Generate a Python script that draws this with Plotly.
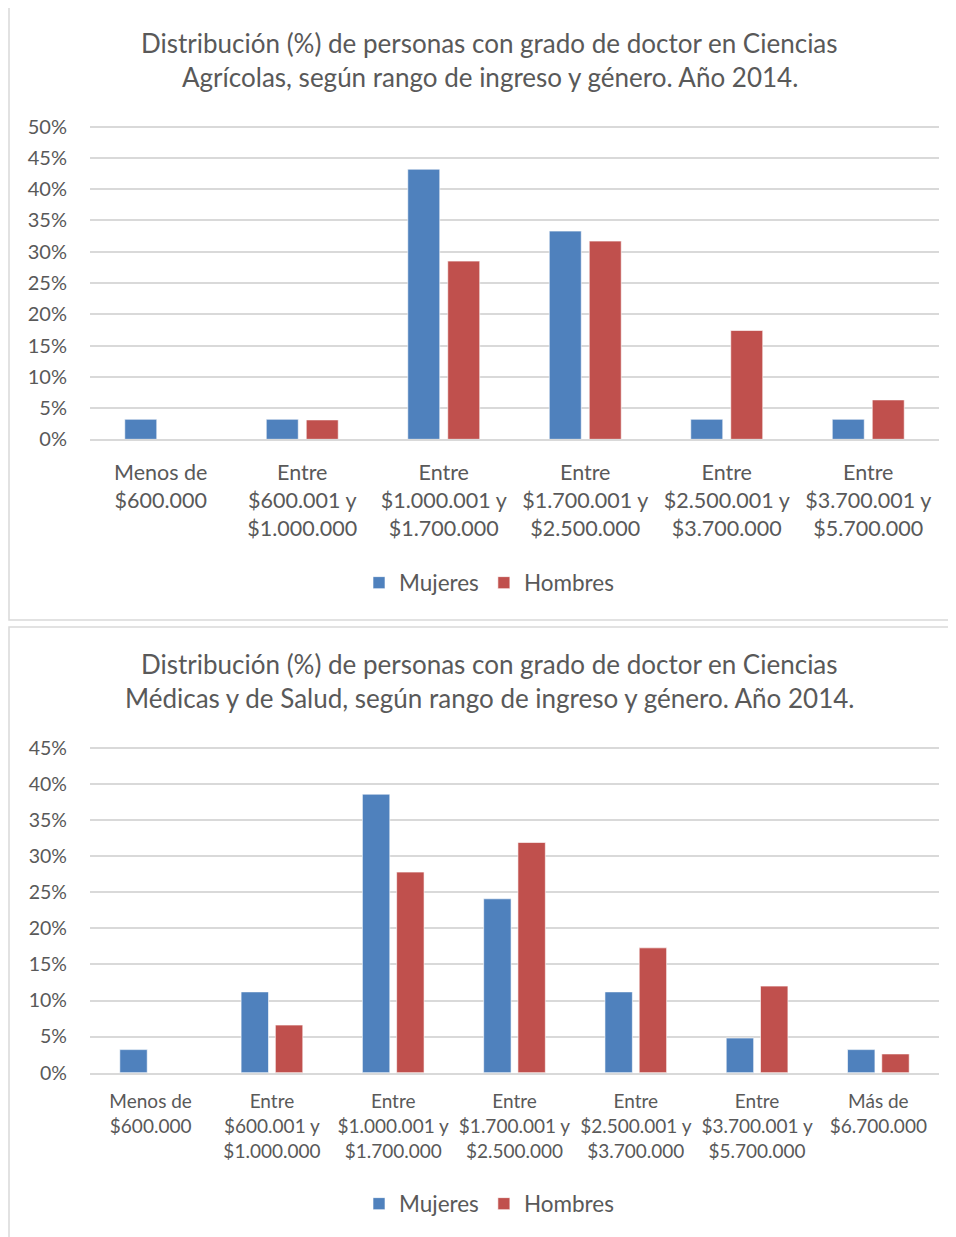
import plotly.graph_objects as go

W, H = 956, 1237
OFF = 8  # browser body margin

# ---- data ----
cats_agri = ["Menos de<br>$600.000", "Entre<br>$600.001 y<br>$1.000.000", "Entre<br>$1.000.001 y<br>$1.700.000",
             "Entre<br>$1.700.001 y<br>$2.500.000", "Entre<br>$2.500.001 y<br>$3.700.000", "Entre<br>$3.700.001 y<br>$5.700.000"]
mujeres_agri = [3.2, 3.2, 43.2, 33.3, 3.2, 3.2]
hombres_agri = [0.0, 3.1, 28.5, 31.7, 17.4, 6.3]

cats_med = ["Menos de<br>$600.000", "Entre<br>$600.001 y<br>$1.000.000", "Entre<br>$1.000.001 y<br>$1.700.000",
            "Entre<br>$1.700.001 y<br>$2.500.000", "Entre<br>$2.500.001 y<br>$3.700.000", "Entre<br>$3.700.001 y<br>$5.700.000",
            "Más de<br>$6.700.000"]
mujeres_med = [3.2, 11.2, 38.6, 24.1, 11.2, 4.8, 3.2]
hombres_med = [0.0, 6.6, 27.8, 31.9, 17.3, 12.0, 2.6]

title_agri = ["Distribución (%) de personas con grado de doctor en Ciencias",
              "Agrícolas, según rango de ingreso y género. Año 2014."]
title_med = ["Distribución (%) de personas con grado de doctor en Ciencias",
             "Médicas y de Salud, según rango de ingreso y género. Año 2014."]

ticks_agri = [0, 5, 10, 15, 20, 25, 30, 35, 40, 45, 50]
ticks_med = [0, 5, 10, 15, 20, 25, 30, 35, 40, 45]
ticktext_agri = [f"{v}%" for v in ticks_agri]
ticktext_med = [f"{v}%" for v in ticks_med]

BLUE = "#4F81BD"
RED = "#C0504D"
TXT = "#595959"
GRID = "#D9D9D9"
FONT = "Lato"

def py(px):  # reference pixel y -> paper
    return 1 - (px - OFF) / H

def pxx(px):
    return (px - OFF) / W

fig = go.Figure()
line = dict(color="rgba(255,255,255,0.6)", width=1)
fig.add_bar(x=cats_agri, y=mujeres_agri, name="Mujeres", marker=dict(color=BLUE, line=line),
            xaxis="x", yaxis="y", legend="legend")
fig.add_bar(x=cats_agri, y=hombres_agri, name="Hombres", marker=dict(color=RED, line=line),
            xaxis="x", yaxis="y", legend="legend")
fig.add_bar(x=cats_med, y=mujeres_med, name="Mujeres", marker=dict(color=BLUE, line=line),
            xaxis="x2", yaxis="y2", legend="legend2")
fig.add_bar(x=cats_med, y=hombres_med, name="Hombres", marker=dict(color=RED, line=line),
            xaxis="x2", yaxis="y2", legend="legend2")

xdom = [pxx(90), pxx(939)]
common_x = dict(showgrid=False, zeroline=False, showline=True, linecolor=GRID, linewidth=1.5,
                ticks="", automargin=False, fixedrange=True)
common_y = dict(showgrid=True, gridcolor=GRID, gridwidth=1.5, zeroline=False, showline=False,
                ticks="", automargin=False, ticklabelstandoff=22, fixedrange=True)

# top chart: 0% at 439.3px, 50% at 126.7px ; bottom: 0% at 1072.7, 45% at 748
k_top = (439.3 - 126.7) / 50
k_bot = (1072.7 - 748.0) / 45
ymax_top, ymax_bot = 51, 46
top_px_top = 439.3 - k_top * ymax_top
top_px_bot = 1072.7 - k_bot * ymax_bot

fig.update_layout(
    width=W, height=H, margin=dict(l=0, r=0, t=0, b=0, autoexpand=False),
    paper_bgcolor="white", plot_bgcolor="white",
    barmode="group", bargap=0.435, bargroupgap=0.2,
    xaxis=dict(domain=xdom, anchor="y", ticklabelstandoff=13,
               tickfont=dict(family=FONT, size=21.5, color=TXT), **common_x),
    yaxis=dict(domain=[py(439.3), py(top_px_top)], anchor="x", range=[0, ymax_top], tickvals=ticks_agri,
               ticktext=ticktext_agri, tickfont=dict(family=FONT, size=20, color=TXT), **common_y),
    xaxis2=dict(domain=xdom, anchor="y2", ticklabelstandoff=11,
                tickfont=dict(family=FONT, size=19, color=TXT), **common_x),
    yaxis2=dict(domain=[py(1072.7), py(top_px_bot)], anchor="x2", range=[0, ymax_bot], tickvals=ticks_med,
                ticktext=ticktext_med, tickfont=dict(family=FONT, size=19.5, color=TXT), **common_y),
    legend=dict(orientation="h", x=pxx(489), y=py(583), xanchor="center", yanchor="middle",
                font=dict(family=FONT, size=22.5, color=TXT), bgcolor="rgba(0,0,0,0)", itemclick=False),
    legend2=dict(orientation="h", x=pxx(489), y=py(1204), xanchor="center", yanchor="middle",
                 font=dict(family=FONT, size=22.5, color=TXT), bgcolor="rgba(0,0,0,0)", itemclick=False),
    showlegend=True,
)

# titles
for lines, ys in [(title_agri, [43, 77]), (title_med, [664, 698])]:
    for t, yy in zip(lines, ys):
        fig.add_annotation(text=t, x=pxx(490), y=py(yy), xref="paper", yref="paper",
                           xanchor="center", yanchor="middle", showarrow=False,
                           font=dict(family=FONT, size=26, color=TXT))

# chart frames
fig.add_shape(type="rect", xref="paper", yref="paper", x0=pxx(9), x1=1.05, y0=py(620), y1=py(5),
              line=dict(color=GRID, width=1.5), layer="below")
fig.add_shape(type="rect", xref="paper", yref="paper", x0=pxx(9), x1=1.05, y0=-0.05, y1=py(627),
              line=dict(color=GRID, width=1.5), layer="below")

fig.write_html("out.html")
